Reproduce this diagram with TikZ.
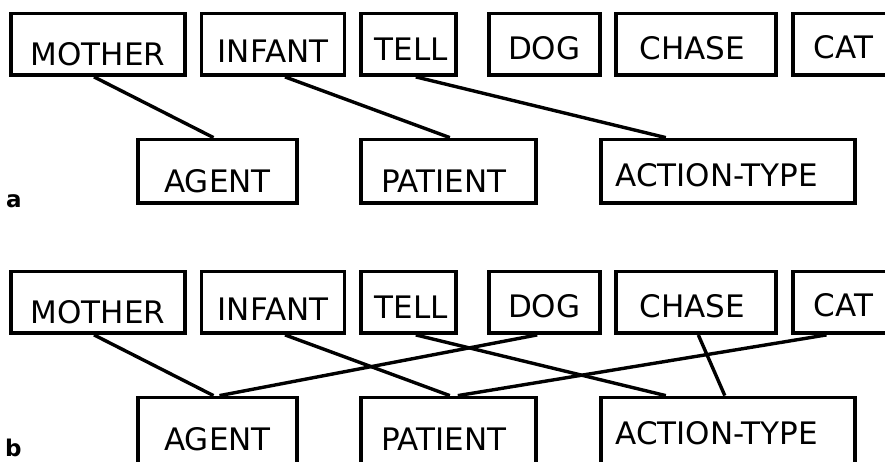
\documentclass[tikz,border=0pt]{standalone}
\usepackage{fontspec}
\setmainfont{DejaVu Sans}

\tikzset{mot/.style = {draw, rectangle, line width=3.8pt, inner sep=0pt,
                       minimum width=#1, font=\fontsize{31}{31}\selectfont},
         haut/.style = {text depth=#1, text height=61.5pt-#1},
         bas/.style = {text height=#1, text depth=\hb pt-#1},
         lien/.style = {line width=3.4pt},
         lettre/.style = {anchor=base west, inner sep=0pt,
                          font=\fontsize{23}{23}\selectfont\bfseries}
        }

\begin{document}
\begin{tikzpicture}[x=1pt, y=-1pt]
\useasboundingbox (0,0) rectangle (885,461);
\clip (0,0) rectangle (885,461);

% the same boxes in both panels, the lower row of b runs off the page
\foreach \p/\dy/\hb in {a/0/63.5, b/258/70} {
  \begin{scope}[shift={(0,\dy)}]
  \node[mot=174pt, haut=10pt]   (mother\p)  at (98,44.25)    {MOTHER};
  \node[mot=143pt, haut=12.3pt] (infant\p)  at (273,44.25)   {INFANT};
  \node[mot=95pt,  haut=15pt]   (tell\p)    at (408.8,44.25) {\hspace*{5pt}TELL};
  \node[mot=111pt, haut=15.7pt] (dog\p)     at (544.2,44.25) {DOG};
  \node[mot=160pt, haut=15.7pt] (chase\p)   at (696.3,44.25) {CHASE\hspace*{8pt}};
  \node[mot=101pt, haut=16.7pt] (cat\p)     at (843.5,44.25) {CAT};
  \node[mot=159pt, bas=53pt]    (agent\p)   at (217.5,{139.5+\hb/2}) {AGENT};
  \node[mot=175pt, bas=53pt]    (patient\p) at (448.8,{139.5+\hb/2}) {PATIENT\hspace*{10pt}};
  \node[mot=253.7pt, bas=47pt]  (action\p)  at (727.8,{139.5+\hb/2}) {ACTION-TYPE\hspace*{22pt}};
  \end{scope}
}

% a
\draw[lien] ([xshift=-4pt]mothera.south) -- ([xshift=-4pt]agenta.north);
\draw[lien] ([xshift=12pt]infanta.south) -- ([xshift=1pt]patienta.north);
\draw[lien] ([xshift=7pt]tella.south) -- ([xshift=-62pt]actiona.north);

% b
\draw[lien] ([xshift=-4pt]motherb.south) -- ([xshift=-4pt]agentb.north);
\draw[lien] ([xshift=12pt]infantb.south) -- ([xshift=1pt]patientb.north);
\draw[lien] ([xshift=7pt]tellb.south) -- ([xshift=-62pt]actionb.north);
\draw[lien] ([xshift=-7pt]dogb.south) -- ([xshift=2pt]agentb.north);
\draw[lien] ([xshift=-17pt]catb.south) -- ([xshift=9pt]patientb.north);
\draw[lien] ([xshift=2pt]chaseb.south) -- ([xshift=-3pt]actionb.north);

\node[lettre] (la) at (6,207) {a};
\node[lettre] (lb) at (5,456) {b};
\end{tikzpicture}
\end{document}
